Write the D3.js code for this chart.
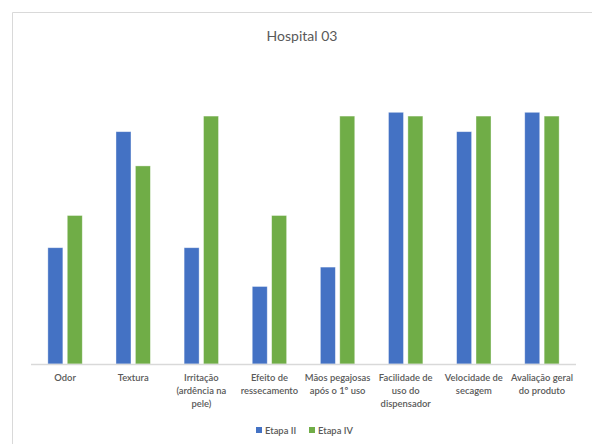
<!DOCTYPE html>
<html>
<head>
<meta charset="utf-8">
<script src="https://cdn.jsdelivr.net/npm/d3@7"></script>
<style>
  html, body { margin: 0; padding: 0; background: #fff; }
  svg { display: block; }
</style>
</head>
<body>
<svg id="chart" width="592" height="444"></svg>
<script>
// Survey items (multi-line labels)
const categories = [
  ["Odor"],
  ["Textura"],
  ["Irritação", "(ardência na", "pele)"],
  ["Efeito de", "ressecamento"],
  ["Mãos pegajosas", "após o 1º uso"],
  ["Facilidade de", "uso do", "dispensador"],
  ["Velocidade de", "secagem"],
  ["Avaliação geral", "do produto"]
];
const seriesNames = ["Etapa II", "Etapa IV"];
// Percentage of favourable answers per stage
const etapaII = [46.2, 92.3, 46.2, 30.8, 38.5, 100, 92.3, 100];
const etapaIV = [59, 78.7, 98.5, 59, 98.5, 98.5, 98.5, 98.5];
const colors = ["#4472c4", "#70ad47"];

const svg = d3.select("#chart");
const font = "Lato, 'Open Sans', sans-serif";
const textColor = "#595959";

// chart frame
svg.append("path")
  .attr("d", "M12.5,444 L12.5,12.5 L592,12.5")
  .attr("fill", "none")
  .attr("stroke", "#d9d9d9")
  .attr("stroke-width", 1);

const plot = { left: 31, right: 576, top: 60, bottom: 364 };

const x0 = d3.scaleBand()
  .domain(d3.range(categories.length))
  .range([plot.left, plot.right])
  .paddingInner(0)
  .paddingOuter(0);

const barW = 15, gap = 4.4;

const y = d3.scaleLinear()
  .domain([0, 100])
  .range([plot.bottom, plot.bottom - 251.7]);

// title
svg.append("text")
  .attr("x", 302)
  .attr("y", 41)
  .attr("text-anchor", "middle")
  .attr("font-family", font)
  .attr("font-size", 14)
  .attr("fill", textColor)
  .text("Hospital 03");

const data = [etapaII, etapaIV];
data.forEach((vals, s) => {
  svg.append("g")
    .selectAll("rect")
    .data(vals)
    .join("rect")
    .attr("x", (d, i) => {
      const c = x0(i) + x0.bandwidth() / 2;
      return s === 0 ? c - gap / 2 - barW : c + gap / 2;
    })
    .attr("y", d => y(d))
    .attr("width", barW)
    .attr("height", d => y(0) - y(d))
    .attr("fill", colors[s])
    .attr("stroke", "#ffffff")
    .attr("stroke-opacity", 0.5)
    .attr("stroke-width", 0.75);
});

// category axis line
svg.append("line")
  .attr("x1", plot.left).attr("x2", plot.right)
  .attr("y1", plot.bottom + 0.5).attr("y2", plot.bottom + 0.5)
  .attr("stroke", "#d9d9d9")
  .attr("stroke-width", 1.5);

// category labels
const lab = svg.append("g")
  .attr("font-family", font)
  .attr("font-size", 9.4)
  .attr("font-weight", 600)
  .attr("fill", textColor)
  .attr("text-anchor", "middle");

categories.forEach((lines, i) => {
  const t = lab.append("text")
    .attr("x", x0(i) + x0.bandwidth() / 2)
    .attr("y", 381);
  lines.forEach((ln, k) => {
    t.append("tspan")
      .attr("x", x0(i) + x0.bandwidth() / 2)
      .attr("dy", k === 0 ? 0 : 12.8)
      .text(ln);
  });
});

// legend
const legendX = [256, 309];
seriesNames.forEach((name, s) => {
  const g = svg.append("g").attr("transform", `translate(${legendX[s]},430)`);
  g.append("rect")
    .attr("x", 0).attr("y", -3)
    .attr("width", 6).attr("height", 6)
    .attr("fill", colors[s]);
  g.append("text")
    .attr("x", 9).attr("y", 3.5)
    .attr("font-family", font)
    .attr("font-size", 9.4)
    .attr("font-weight", 600)
    .attr("fill", textColor)
    .text(name);
});
</script>
</body>
</html>
